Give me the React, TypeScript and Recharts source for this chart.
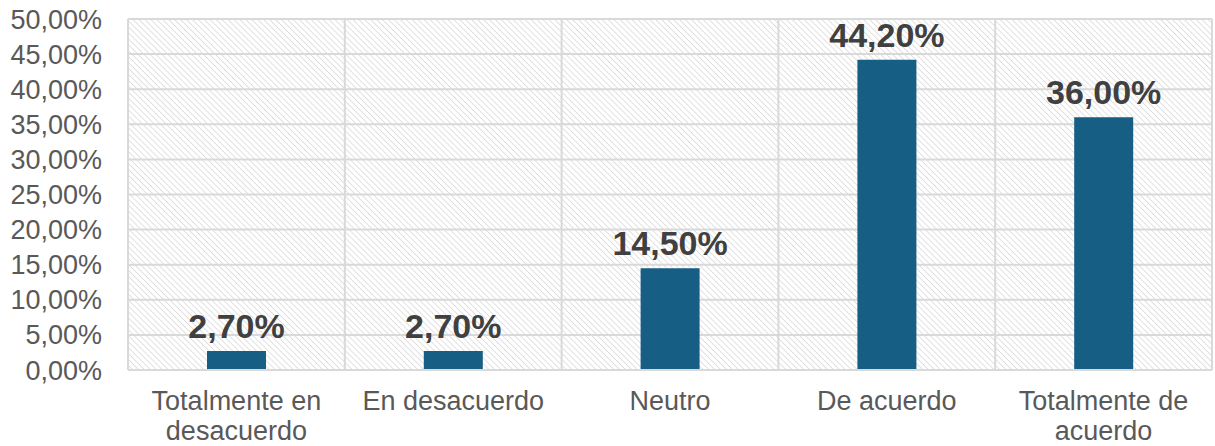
import { BarChart, Bar, XAxis, YAxis, CartesianGrid, LabelList } from 'recharts'

// ── Datos ────────────────────────────────────────────
const categorias = ['Totalmente en\ndesacuerdo', 'En desacuerdo', 'Neutro', 'De acuerdo', 'Totalmente de\nacuerdo']
const porcentajes = [2.7, 2.7, 14.5, 44.2, 36.0]
const ticksY = [0, 5, 10, 15, 20, 25, 30, 35, 40, 45, 50]
const bordes = [0, 1, 2, 3, 4, 5]

const data = categorias.map((c, i) => ({ cat: c, valor: porcentajes[i], pos: i + 0.5 }))

const fmt = (v: number) => `${v.toFixed(2).replace('.', ',')}%`

const FONT = "'Liberation Sans', Arial, sans-serif"

function CatTick({ x, y, payload }: { x?: number; y?: number; payload?: { value: string } }) {
  const lines = String(payload?.value ?? '').split('\n')
  return (
    <text x={x} y={y} textAnchor="middle" fill="#595959" fontSize={27} fontFamily={FONT}>
      {lines.map((l, i) => (
        <tspan key={i} x={x} dy={i === 0 ? 40 : 30}>{l}</tspan>
      ))}
    </text>
  )
}

export default function App() {
  return (
    <div style={{ position: 'fixed', top: 0, left: 0, background: '#fff', width: 1215, height: 446, overflow: 'hidden' }}>
      <BarChart
        width={1215}
        height={446}
        data={data}
        margin={{ top: 19, right: 3, left: 0, bottom: 0 }}
        barCategoryGap={0}
      >
        <defs>
          <pattern id="rayado" width="4.2" height="4.2" patternUnits="userSpaceOnUse" patternTransform="rotate(-45)">
            <line x1="0" y1="0" x2="0" y2="4.2" stroke="#d2d2d2" strokeWidth="1.3" />
          </pattern>
        </defs>
        <CartesianGrid
          xAxisId="bordes"
          stroke="#d9d9d9"
          strokeWidth={2}
          fill="url(#rayado)"
          fillOpacity={1}
        />
        <XAxis
          dataKey="cat"
          interval={0}
          tick={<CatTick />}
          tickLine={false}
          tickSize={0}
          tickMargin={0}
          axisLine={{ stroke: '#d9d9d9', strokeWidth: 2 }}
          height={76}
        />
        <XAxis
          xAxisId="bordes"
          type="number"
          dataKey="pos"
          domain={[0, 5]}
          ticks={bordes}
          hide
        />
        <YAxis
          domain={[0, 50]}
          ticks={ticksY}
          interval={0}
          tickFormatter={fmt}
          tick={{ fill: '#595959', fontSize: 27, fontFamily: FONT }}
          tickLine={false}
          tickSize={0}
          tickMargin={26}
          axisLine={false}
          width={128}
        />
        <Bar dataKey="valor" fill="#165e83" barSize={59} isAnimationActive={false}>
          <LabelList
            dataKey="valor"
            position="top"
            offset={13}
            formatter={(v: number) => fmt(v)}
            fill="#404040"
            fontSize={34}
            fontWeight="bold"
            fontFamily={FONT}
          />
        </Bar>
      </BarChart>
    </div>
  )
}
